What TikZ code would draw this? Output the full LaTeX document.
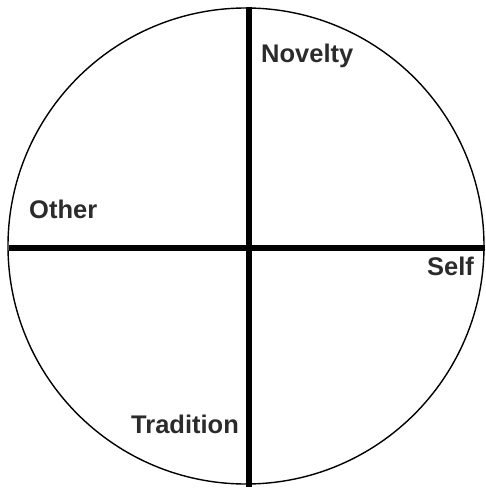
\documentclass[tikz,border=0pt]{standalone}
\usepackage{fontspec}
\setmainfont{Liberation Sans}
\usepackage{xcolor}
\usepackage{tikz}
\usetikzlibrary{calc}
\definecolor{labelgray}{HTML}{2B2B2B}

\begin{document}
\begin{tikzpicture}[x=1pt, y=-1pt,
    axis/.style={line width=5.8pt, black},
    quad/.style={font=\fontsize{25.5}{30}\selectfont\bfseries, text=labelgray, anchor=base west, inner sep=0pt}]
  \useasboundingbox (0,0) rectangle (485,489);
  \coordinate (c) at (246,246);
  \draw[line width=1.4pt] (c) circle[radius=238];
  % the two axes
  \coordinate (top) at (249,7);
  \coordinate (bot) at (249,487);
  \coordinate (lft) at (9,248);
  \coordinate (rgt) at (485,248);
  \draw[axis] (top) -- (bot);
  \draw[axis] (lft) -- (rgt);
  % quadrant labels
  \node[quad] (novelty) at (261,63) {Novelty};
  \node[quad] (other) at (29,218) {Other};
  \node[quad] (self) at (427,275) {Self};
  \node[quad] (tradition) at (131,433) {Tradition};
\end{tikzpicture}
\end{document}
